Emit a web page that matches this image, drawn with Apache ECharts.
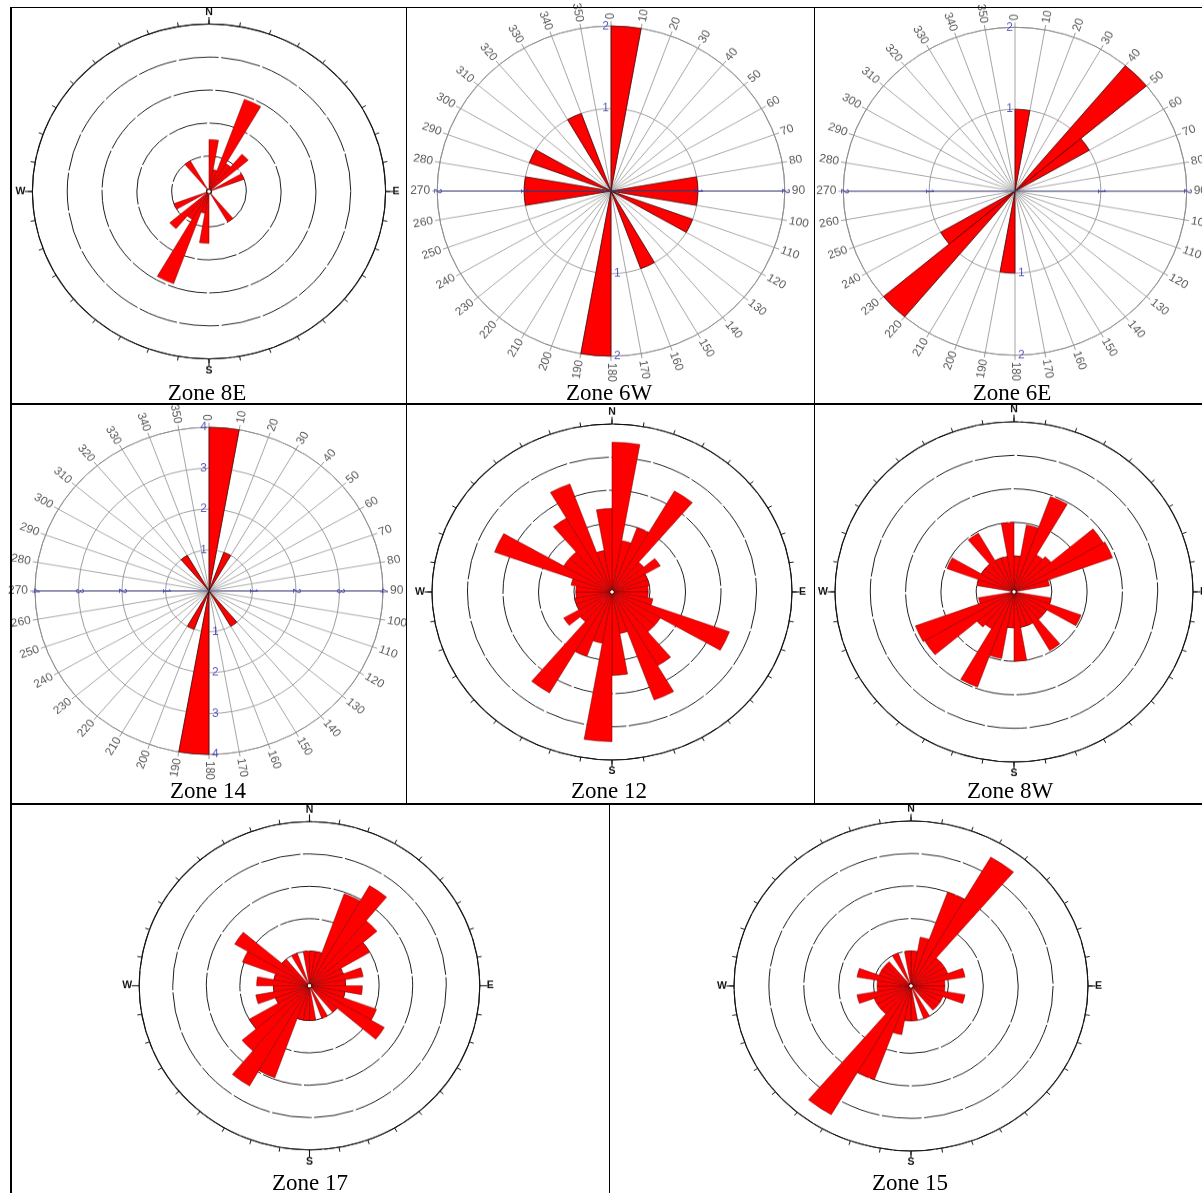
<!DOCTYPE html>
<html>
<head>
<meta charset="utf-8">
<script src="https://cdn.jsdelivr.net/npm/echarts@6/dist/echarts.min.js"></script>
<style>
  html, body { margin: 0; padding: 0; background: #fff; }
  body { position: relative; width: 1202px; height: 1193px; overflow: hidden; }
  .panel { position: absolute; transform-origin: 0 0; z-index: 1; }
  .rule { position: absolute; background: #000; z-index: 5; }
  .cap { position: absolute; z-index: 5; white-space: nowrap; line-height: 1;
         font-family: "Liberation Serif", "Times New Roman", serif; font-size: 23px; color: #000;
         transform: translateX(-50%); }
</style>
</head>
<body>
<script>
// ---- bins (10 degree sectors, clockwise from north) ----
const binStarts = [0, 10, 20, 30, 40, 50, 60, 70, 80, 90, 100, 110, 120, 130, 140, 150, 160, 170,
                   180, 190, 200, 210, 220, 230, 240, 250, 260, 270, 280, 290, 300, 310, 320, 330, 340, 350];
const binWidth = 10;

// ---- angle tick labels of the graduated diagrams ----
const angleTicks = [0, 10, 20, 30, 40, 50, 60, 70, 80, 90, 100, 110, 120, 130, 140, 150, 160, 170,
                    180, 190, 200, 210, 220, 230, 240, 250, 260, 270, 280, 290, 300, 310, 320, 330, 340, 350];
const cardinalAngles = [0, 90, 180, 270];
const cardinalNames = ['N', 'E', 'S', 'W'];

// ---- ring values ----
const compassRings = [1, 2, 3, 4, 5];
const rings6W = [1, 2];
const rings6E = [1, 2];
const rings14 = [1, 2, 3, 4];

// ---- sector lengths per bin ----
const zone8E = [1.5, 0.6, 2.9, 0.9, 1.4, 0, 1.0, 0, 0, 0, 0, 0, 0, 0, 1.0, 0, 0, 0,
                1.5, 0.6, 2.9, 0.9, 1.4, 0, 1.0, 0, 0, 0, 0, 0, 0, 0, 1.0, 0, 0, 0];
const zone6W = [2, 0, 0, 0, 0, 0, 0, 0, 1, 1, 0, 1, 0, 0, 0, 1, 0, 0,
                2, 0, 0, 0, 0, 0, 0, 0, 1, 1, 0, 1, 0, 0, 0, 1, 0, 0];
const zone6E = [1, 0, 0, 0, 2, 1, 0, 0, 0, 0, 0, 0, 0, 0, 0, 0, 0, 0,
                1, 0, 0, 0, 2, 1, 0, 0, 0, 0, 0, 0, 0, 0, 0, 0, 0, 0];
const zone14 = [4, 0, 1, 0, 0, 0, 0, 0, 0, 0, 0, 0, 0, 0, 1, 0, 0, 0,
                4, 0, 1, 0, 0, 0, 0, 0, 0, 0, 0, 0, 0, 0, 1, 0, 0, 0];
const zone12 = [4.45, 1.5, 2.0, 3.45, 1.1, 1.5, 1.0, 1.0, 0.95, 0.95, 1.1, 3.45, 1.5, 1.5, 2.5, 3.4, 1.2, 2.45,
                4.45, 1.5, 2.0, 3.45, 1.1, 1.5, 1.0, 1.0, 0.95, 0.95, 1.1, 3.45, 1.5, 1.5, 2.5, 3.4, 1.2, 2.45];
const zone8W = [1.0, 1.95, 2.95, 1.2, 1.3, 2.85, 2.9, 0.95, 0, 0, 1.0, 1.95, 1.0, 1.0, 1.95, 1.0, 1.0, 2.0,
                1.0, 1.95, 2.95, 1.2, 1.3, 2.85, 2.9, 0.95, 0, 0, 1.0, 1.95, 1.0, 1.0, 1.95, 1.0, 1.0, 2.0];
const zone17 = [1.0, 1.0, 2.95, 3.5, 2.55, 2.0, 1.0, 1.55, 1.0, 1.5, 1.0, 2.05, 2.5, 1.0, 0, 1.0, 0, 1.0,
                1.0, 1.0, 2.95, 3.5, 2.55, 2.0, 1.0, 1.55, 1.0, 1.5, 1.0, 2.05, 2.5, 1.0, 0, 1.0, 0, 1.0];
const zone15 = [1.0, 1.45, 3.0, 4.5, 1.05, 1.05, 1.05, 1.5, 0.9, 0.9, 1.5, 0.9, 0.9, 0.9, 0, 1.0, 0, 1.0,
                1.0, 1.45, 3.0, 4.5, 1.05, 1.05, 1.05, 1.5, 0.9, 0.9, 1.5, 0.9, 0.9, 0.9, 0, 1.0, 0, 1.0];

// ---- layout of the eight diagrams (centre, outer radius, vertical squeeze) ----
const panels = [
  { kind: 'compass',   values: zone8E, rings: compassRings, cx: 209.4,  cy: 191.5, R: 176.6, k: 0.948 },
  { kind: 'graduated', values: zone6W, rings: rings6W,      cx: 611,    cy: 190.7, R: 173.8, k: 0.95 },
  { kind: 'graduated', values: zone6E, rings: rings6E,      cx: 1014.7, cy: 191,   R: 171.7, k: 0.955 },
  { kind: 'graduated', values: zone14, rings: rings14,      cx: 209,    cy: 590.5, R: 174,   k: 0.94 },
  { kind: 'compass',   values: zone12, rings: compassRings, cx: 611.7,  cy: 591.7, R: 180,   k: 0.933 },
  { kind: 'compass',   values: zone8W, rings: compassRings, cx: 1013.7, cy: 591.3, R: 179,   k: 0.95 },
  { kind: 'compass',   values: zone17, rings: compassRings, cx: 309.7,  cy: 985.5, R: 170.3, k: 0.964 },
  { kind: 'compass',   values: zone15, rings: compassRings, cx: 911.3,  cy: 986.3, R: 177,   k: 0.932 }
];

const captions = [
  { text: 'Zone 8E', x: 207,  base: 400 },
  { text: 'Zone 6W', x: 609,  base: 400 },
  { text: 'Zone 6E', x: 1012, base: 400 },
  { text: 'Zone 14', x: 208,  base: 798 },
  { text: 'Zone 12', x: 609,  base: 798 },
  { text: 'Zone 8W', x: 1010, base: 798 },
  { text: 'Zone 17', x: 310,  base: 1190 },
  { text: 'Zone 15', x: 910,  base: 1190 }
];

// table rules: [left, top, width, height]
const rules = [
  [10, 6.5, 1192, 1.5],
  [10, 6.5, 1.5, 1187],
  [405.5, 6.5, 1.4, 798],
  [813.5, 6.5, 1.4, 798],
  [10, 403.3, 1192, 1.4],
  [10, 803, 1192, 2],
  [608.8, 804, 1.4, 389]
];

const RED = '#ff0000';
const SANS = '"Liberation Sans", Arial, Helvetica, sans-serif';
const DEG = Math.PI / 180;

// Sector per bin, radius taken from the radius axis scale
function sectorSeries(values, stroke, lineWidth) {
  return {
    type: 'custom', coordinateSystem: 'polar', silent: true, z: 3,
    data: values.map((v, i) => [v, binStarts[i]]),
    renderItem: function (params, api) {
      const v = api.value(0);
      if (!(v > 0)) return null;
      const a = api.value(1);
      const cs = params.coordSys;
      const p = api.coord([v, a]);
      const r = Math.hypot(p[0] - cs.cx, p[1] - cs.cy);
      return {
        type: 'sector',
        shape: { cx: cs.cx, cy: cs.cy, r0: cs.r0, r: r,
                 startAngle: (a - 90) * DEG, endAngle: (a + binWidth - 90) * DEG, clockwise: true },
        style: { fill: RED, stroke: stroke, lineWidth: lineWidth }
      };
    }
  };
}

// Longer ticks at N, E, S, W on the compass frame
function cardinalTickSeries(maxR) {
  return {
    type: 'custom', coordinateSystem: 'polar', silent: true, z: 4,
    data: cardinalAngles.map(a => [maxR, a]),
    renderItem: function (params, api) {
      const cs = params.coordSys;
      const p = api.coord([api.value(0), api.value(1)]);
      const dx = p[0] - cs.cx, dy = p[1] - cs.cy;
      const len = Math.hypot(dx, dy);
      const f = (len + 7.5) / len;
      return { type: 'line', shape: { x1: p[0], y1: p[1], x2: cs.cx + dx * f, y2: cs.cy + dy * f },
               style: { stroke: '#111', lineWidth: 1.1 } };
    }
  };
}

function compassOption(pn) {
  const maxR = pn.rings[pn.rings.length - 1];
  return {
    animation: false,
    polar: { center: ['50%', '50%'], radius: [2.5, pn.R] },
    angleAxis: {
      type: 'value', min: 0, max: 360, interval: 10, startAngle: 90, clockwise: true,
      axisLine: { show: true, lineStyle: { color: '#111', width: 1.1 } },
      axisTick: { show: true, length: 4.5, lineStyle: { color: '#111', width: 1 } },
      axisLabel: {
        show: true, margin: 7, fontFamily: SANS, fontWeight: 'bold', fontSize: 10.5, color: '#111',
        formatter: function (v) { const i = cardinalAngles.indexOf(v); return i >= 0 ? cardinalNames[i] : ''; }
      },
      splitLine: { show: false }
    },
    radiusAxis: {
      type: 'value', min: 0, max: maxR, interval: 1,
      axisLine: { show: false }, axisTick: { show: false }, axisLabel: { show: false },
      splitLine: { show: true, lineStyle: { color: '#1e1e1e', width: 1, type: [40, 2.5] } }
    },
    series: [sectorSeries(pn.values, '#7a0000', 0.55), cardinalTickSeries(maxR)]
  };
}

function graduatedOption(pn) {
  const maxR = pn.rings[pn.rings.length - 1];
  const angleLabels = {
    type: 'scatter', coordinateSystem: 'polar', silent: true, symbolSize: 1, z: 5,
    itemStyle: { color: 'rgba(0,0,0,0)' },
    data: angleTicks.map(a => {
      const right = a <= 180;
      return { value: [maxR, a],
               label: { rotate: right ? 90 - a : 270 - a, align: right ? 'left' : 'right',
                        padding: right ? [0, 0, 0, 7] : [0, 7, 0, 0] } };
    }),
    label: { show: true, position: 'inside', verticalAlign: 'middle', fontFamily: SANS, fontSize: 12,
             color: '#2e2e2e', formatter: p => String(p.value[1]) }
  };
  const ringLabels = {
    type: 'scatter', coordinateSystem: 'polar', silent: true, symbolSize: 1, z: 6,
    itemStyle: { color: 'rgba(0,0,0,0)' },
    data: pn.rings.flatMap(r => [
      { value: [r, 0],   label: { align: 'right', padding: [0, 2, 0, 0] } },
      { value: [r, 180], label: { align: 'left', padding: [0, 0, 0, 3] } },
      { value: [r, 90],  label: { rotate: -90, align: 'center', fontSize: 10 } },
      { value: [r, 270], label: { rotate: -90, align: 'center', fontSize: 10 } }
    ]),
    label: { show: true, position: 'inside', verticalAlign: 'middle', fontFamily: SANS, fontSize: 12,
             color: '#3030b0', formatter: p => String(p.value[0]) }
  };
  const eastWestAxis = {
    type: 'line', coordinateSystem: 'polar', silent: true, symbol: 'none', z: 4,
    data: [[maxR, 270], [0, 0], [maxR, 90]],
    lineStyle: { color: '#50508f', width: 1 }
  };
  return {
    animation: false,
    polar: { center: ['50%', '50%'], radius: pn.R },
    angleAxis: {
      type: 'value', min: 0, max: 360, interval: 10, startAngle: 90, clockwise: true,
      axisLine: { show: true, lineStyle: { color: '#8e8e8e', width: 1 } },
      axisTick: { show: true, length: 5, lineStyle: { color: '#8e8e8e', width: 0.9 } },
      axisLabel: { show: false },
      splitLine: { show: true, lineStyle: { color: '#9c9c9c', width: 0.9 } }
    },
    radiusAxis: {
      type: 'value', min: 0, max: maxR, interval: 1,
      axisLine: { show: false }, axisTick: { show: false }, axisLabel: { show: false },
      splitLine: { show: true, lineStyle: { color: '#9c9c9c', width: 1 } }
    },
    series: [sectorSeries(pn.values, '#3a0000', 0.7), eastWestAxis, ringLabels, angleLabels]
  };
}

panels.forEach(pn => {
  const S = Math.ceil(2 * pn.R + 90);
  const div = document.createElement('div');
  div.className = 'panel';
  div.style.width = S + 'px';
  div.style.height = S + 'px';
  div.style.left = (pn.cx - S / 2) + 'px';
  div.style.top = (pn.cy - pn.k * S / 2) + 'px';
  div.style.transform = 'scaleY(' + pn.k + ')';
  document.body.appendChild(div);
  const chart = echarts.init(div, null, { renderer: 'canvas', width: S, height: S });
  chart.setOption(pn.kind === 'compass' ? compassOption(pn) : graduatedOption(pn));
});

rules.forEach(r => {
  const d = document.createElement('div');
  d.className = 'rule';
  d.style.left = r[0] + 'px'; d.style.top = r[1] + 'px';
  d.style.width = r[2] + 'px'; d.style.height = r[3] + 'px';
  document.body.appendChild(d);
});

captions.forEach(c => {
  const d = document.createElement('div');
  d.className = 'cap';
  d.textContent = c.text;
  d.style.left = c.x + 'px';
  d.style.top = (c.base - 19.3) + 'px';
  document.body.appendChild(d);
});
</script>
</body>
</html>
